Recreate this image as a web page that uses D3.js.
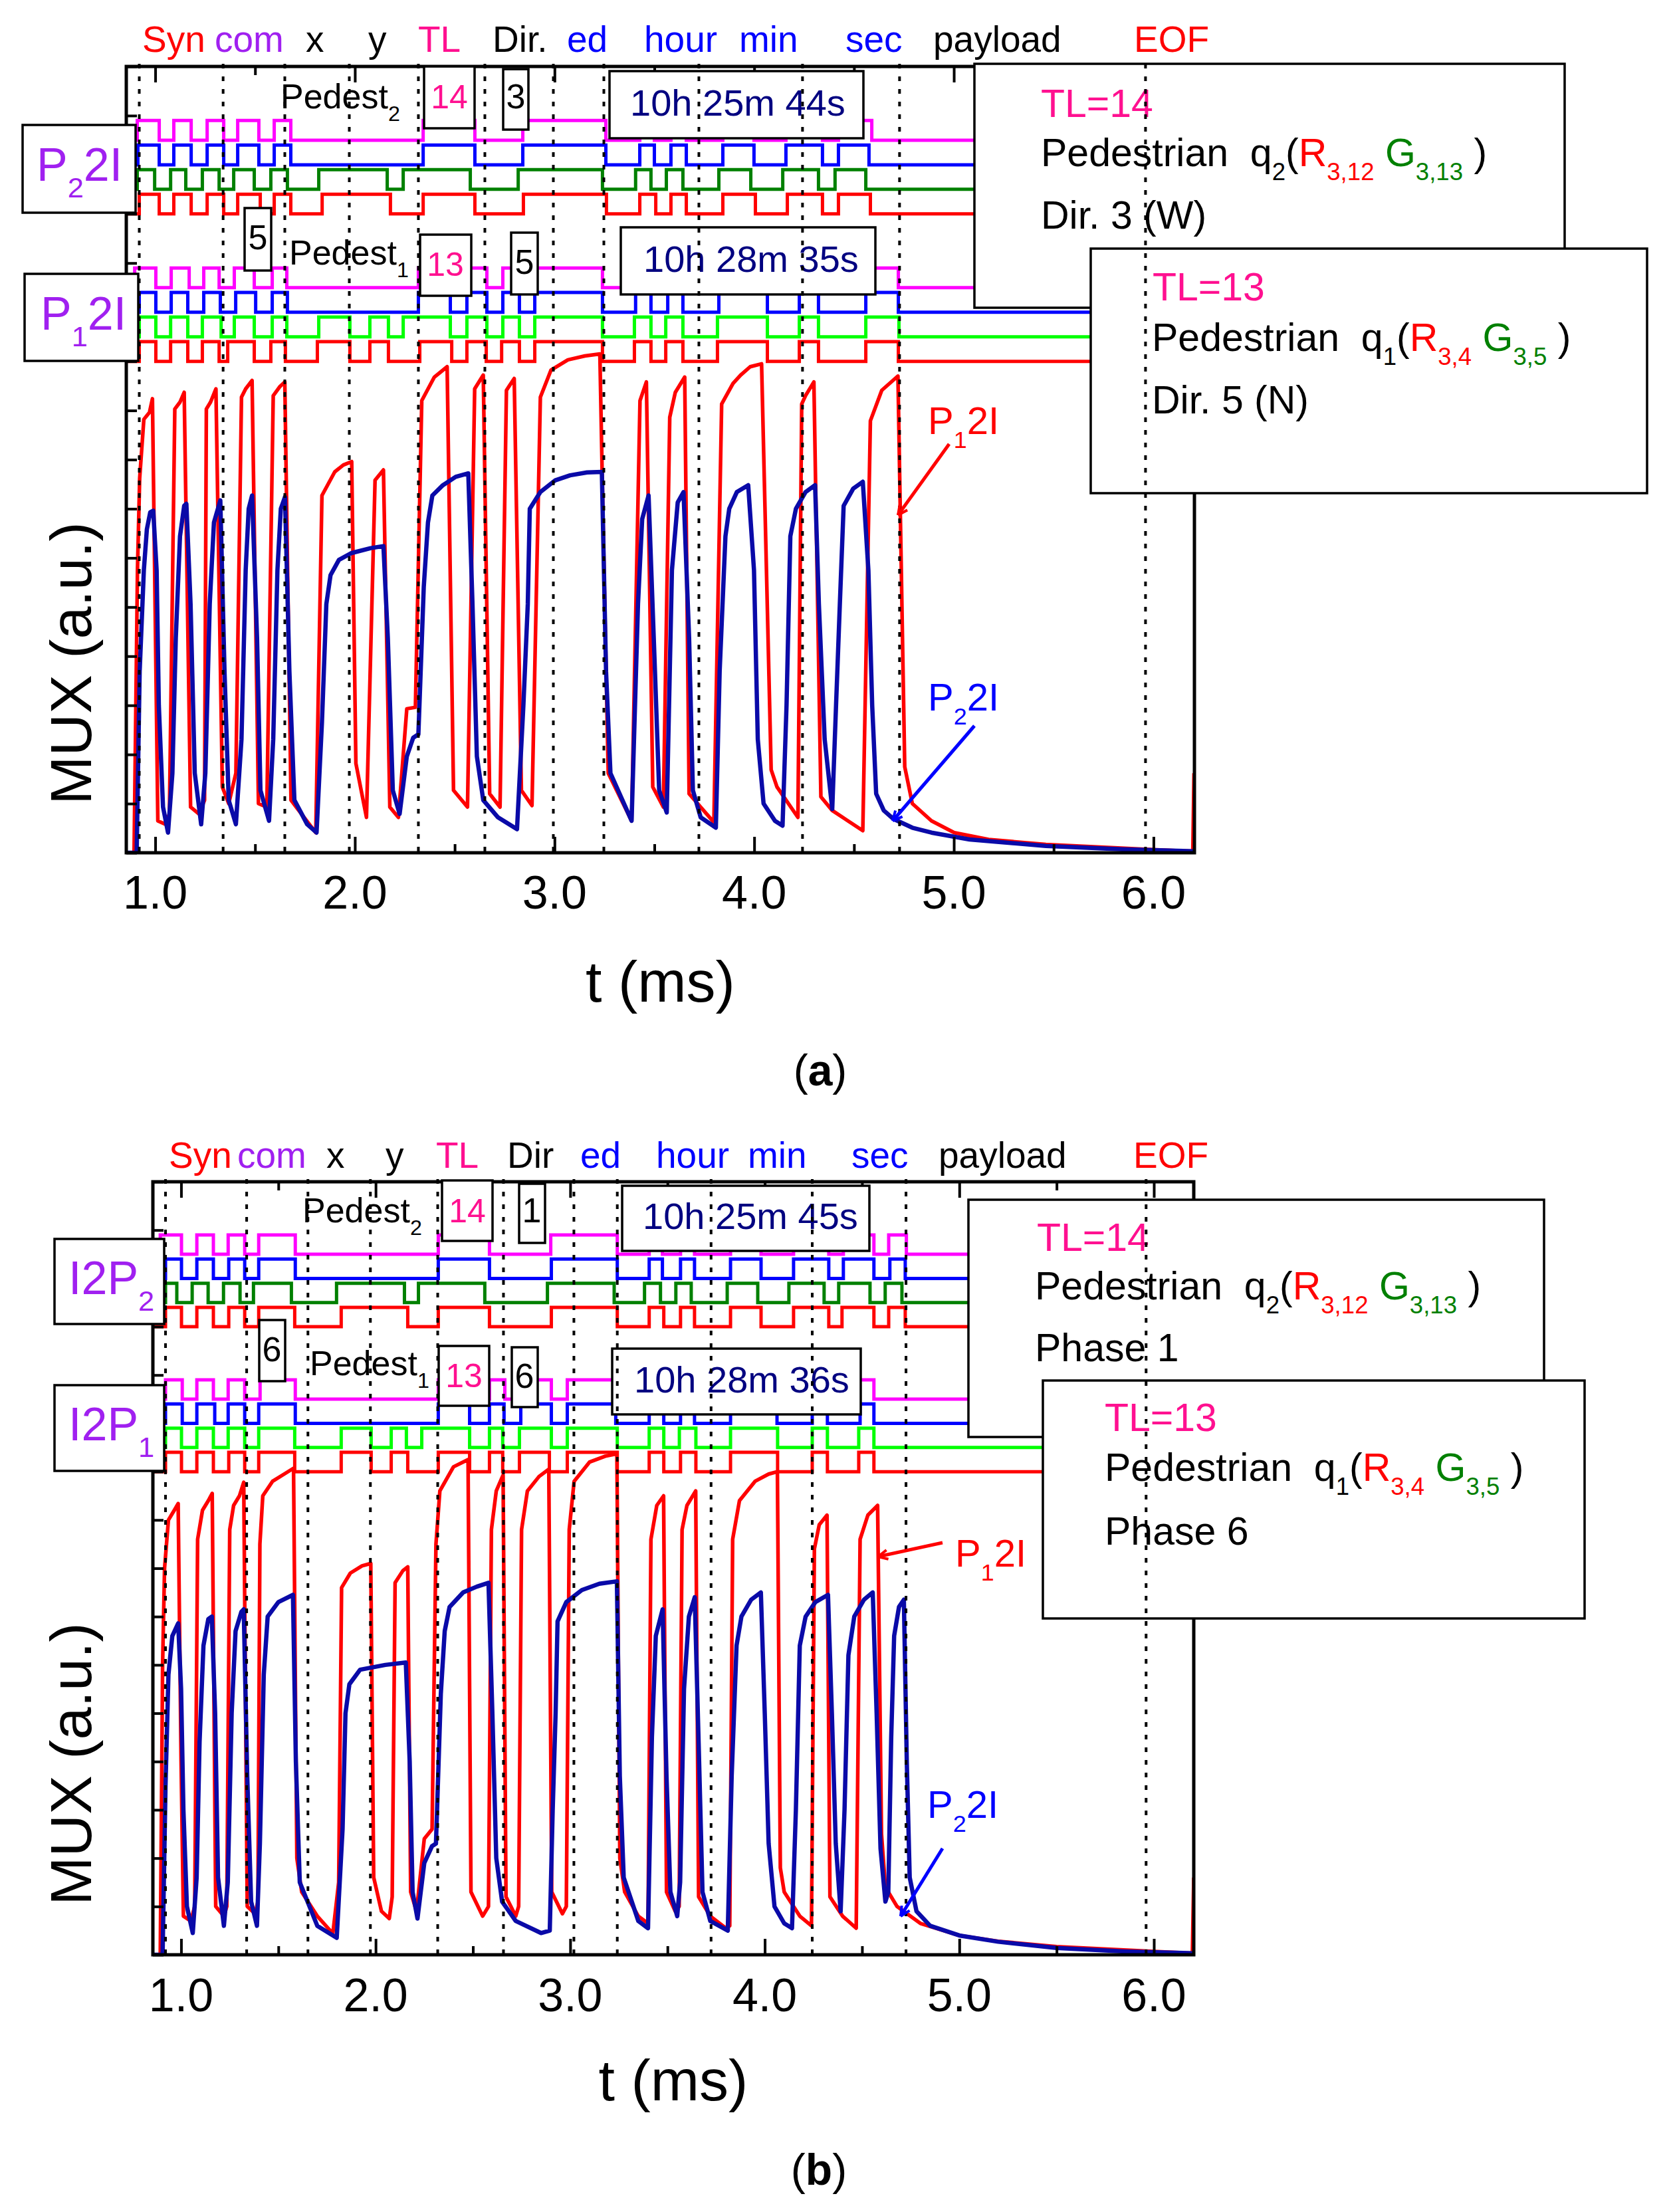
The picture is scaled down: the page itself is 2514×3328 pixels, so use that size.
<!DOCTYPE html>
<html><head><meta charset="utf-8">
<script src="https://cdn.jsdelivr.net/npm/d3@7"></script>
<style>
body{margin:0;background:#fff;}
svg{display:block;}
text{font-family:"Liberation Sans",Arial,sans-serif;white-space:pre;}
</style></head><body>
<svg id="chart" width="2514" height="3328"></svg>
<script>
// ---------------- DATA ----------------
const xTickValues = [1, 2, 3, 4, 5, 6];
const xTickLabels = ["1.0", "2.0", "3.0", "4.0", "5.0", "6.0"];
const xMinorTicks = [1.5, 2.5, 3.5, 4.5, 5.5];
const yTickValues = d3.range(0, 17);
const xLabel = "t (ms)";
const yLabel = "MUX (a.u.)";

const frameLabelsA = ["Syn", "com", "x", "y", "TL", "Dir.", "ed", "hour", "min", "sec", "payload", "EOF"];
const frameLabelsB = ["Syn", "com", "x", "y", "TL", "Dir", "ed", "hour", "min", "sec", "payload", "EOF"];

// field boundaries (ms)
const markersA = [0.920, 1.340, 1.649, 1.972, 2.318, 2.651, 2.994, 3.247, 3.723, 4.242, 4.728, 5.960];
const markersB = [0.920, 1.337, 1.652, 1.973, 2.319, 2.657, 3.019, 3.242, 3.724, 4.244, 4.726, 5.960];

// digital traces: toggle times (ms), starting low
const a_P2_red     = [0.920,1.020,1.093,1.180,1.260,1.343,1.413,1.526,1.596,1.679,1.836,2.178,2.342,2.601,2.844,3.260,3.427,3.507,3.583,3.660,3.843,4.006,4.166,4.342,4.422,4.582];
const a_P2_green   = [0.910,0.997,1.077,1.153,1.236,1.320,1.393,1.496,1.579,1.662,1.819,2.162,2.242,2.578,2.818,3.240,3.406,3.483,3.560,3.643,3.823,3.983,4.143,4.322,4.405,4.559];
const a_P2_blue    = [0.913,1.020,1.093,1.180,1.260,1.343,1.413,1.519,1.596,1.679,2.342,2.601,2.841,3.257,3.427,3.500,3.583,3.660,3.843,3.999,4.159,4.342,4.422,4.575];
const a_P2_magenta = [0.910,1.020,1.093,1.180,1.260,1.343,1.413,1.519,1.596,1.679,2.342,2.601,2.841,3.257,3.427,3.500,3.583,3.660,3.843,3.999,4.159,4.342,4.422,4.589];
const a_P1_red     = [0.920,1.003,1.077,1.163,1.236,1.320,1.363,1.496,1.579,1.652,1.812,1.975,2.075,2.168,2.325,2.485,2.561,2.658,2.735,2.824,2.901,3.240,3.400,3.483,3.557,3.643,3.816,4.066,4.226,4.322,4.559,4.722];
const a_P1_green   = [0.920,1.003,1.077,1.163,1.236,1.330,1.396,1.496,1.586,1.659,1.819,1.975,2.075,2.168,2.242,2.478,2.561,2.661,2.741,2.824,2.901,3.240,3.400,3.483,3.557,3.643,3.816,4.066,4.226,4.322,4.559,4.725];
const a_P1_blue    = [0.920,1.003,1.080,1.163,1.243,1.326,1.403,1.503,1.586,1.662,2.318,2.478,2.561,2.661,2.741,2.824,2.901,3.240,3.406,3.483,3.567,3.643,3.823,4.066,4.226,4.322,4.559,4.722];
const a_P1_magenta = [0.897,1.003,1.080,1.170,1.243,1.320,1.396,1.496,1.586,1.659,2.318,2.478,2.561,2.661,2.741,2.824,2.901,3.240,3.406,3.483,3.567,3.643,3.823,4.066,4.226,4.322,4.559,4.722];

const b_P2_red     = [0.920,1.002,1.081,1.166,1.245,1.327,1.399,1.584,1.823,2.165,2.322,2.585,2.903,3.242,3.406,3.481,3.567,3.639,3.824,3.981,4.148,4.329,4.397,4.561,4.637,4.722];
const b_P2_green   = [0.920,0.978,1.057,1.139,1.218,1.303,1.372,1.567,1.799,2.148,2.220,2.561,2.883,3.226,3.382,3.464,3.543,3.622,3.807,3.964,4.124,4.305,4.380,4.541,4.619,4.705];
const b_P2_blue    = [0.920,1.002,1.081,1.166,1.245,1.327,1.399,1.587,2.322,2.585,2.903,3.242,3.406,3.474,3.567,3.639,3.824,3.981,4.148,4.329,4.404,4.561,4.643,4.722];
const b_P2_magenta = [0.893,1.002,1.081,1.166,1.242,1.327,1.399,1.587,2.322,2.585,2.900,3.242,3.406,3.474,3.567,3.639,3.824,3.981,4.148,4.329,4.404,4.561,4.637,4.728];
const b_P1_red     = [0.920,1.002,1.081,1.166,1.245,1.327,1.399,1.584,1.823,1.977,2.080,2.165,2.322,2.483,2.585,2.653,2.739,2.893,2.985,3.242,3.406,3.481,3.567,3.646,3.824,4.066,4.244,4.322,4.483,4.561];
const b_P1_green   = [0.920,1.002,1.081,1.166,1.242,1.327,1.399,1.584,1.823,1.977,2.080,2.158,2.237,2.483,2.585,2.653,2.739,2.903,2.985,3.242,3.406,3.481,3.561,3.646,3.824,4.066,4.244,4.322,4.483,4.561];
const b_P1_blue    = [0.920,1.006,1.081,1.173,1.242,1.327,1.399,1.587,2.322,2.483,2.585,2.660,2.746,2.903,2.985,3.234,3.406,3.481,3.567,3.639,3.824,4.063,4.244,4.322,4.490,4.561];
const b_P1_magenta = [0.920,1.006,1.081,1.166,1.242,1.327,1.406,1.587,2.322,2.483,2.585,2.664,2.746,2.903,2.985,3.234,3.406,3.481,3.567,3.639,3.824,4.063,4.244,4.322,4.483,4.561];

// analog MUX signals: [t (ms), amplitude (a.u.)]
const a_P1_2I = [[0.852,0],[0.894,0],[0.911,5.75],[0.922,7.62],[0.943,8.82],[0.971,8.96],[0.986,9.24],[1.013,0.65],[1.050,0.58],[1.071,0.79],[1.098,9.03],[1.124,9.17],[1.145,9.37],[1.177,0.93],[1.219,0.79],[1.247,1.07],[1.256,9.03],[1.277,9.17],[1.304,9.44],[1.336,1.34],[1.368,1.0],[1.404,1.62],[1.432,9.27],[1.453,9.44],[1.485,9.61],[1.517,1.0],[1.559,0.93],[1.591,9.30],[1.623,9.48],[1.649,9.58],[1.680,1.07],[1.719,0.86],[1.804,0.41],[1.835,7.27],[1.899,7.75],[1.942,7.89],[1.984,7.96],[2.005,1.82],[2.058,0.72],[2.101,7.58],[2.143,7.79],[2.175,0.93],[2.218,0.72],[2.260,2.93],[2.303,2.96],[2.335,9.20],[2.398,9.68],[2.462,9.89],[2.494,1.27],[2.564,0.93],[2.600,9.44],[2.643,9.72],[2.675,1.20],[2.727,0.93],[2.759,9.41],[2.798,9.65],[2.834,1.27],[2.887,0.96],[2.929,9.27],[2.982,9.82],[3.067,10.03],[3.152,10.11],[3.227,10.15],[3.248,5.75],[3.269,1.62],[3.386,0.65],[3.428,9.20],[3.460,9.58],[3.492,1.34],[3.545,0.93],[3.577,8.86],[3.605,9.37],[3.652,9.68],[3.674,1.20],[3.798,0.62],[3.837,9.13],[3.894,9.55],[3.932,9.72],[3.980,9.89],[4.037,9.95],[4.085,1.69],[4.114,1.34],[4.219,0.72],[4.238,9.13],[4.257,9.30],[4.299,9.58],[4.334,1.14],[4.391,0.86],[4.544,0.45],[4.582,8.79],[4.639,9.41],[4.720,9.70],[4.754,1.75],[4.792,1.0],[4.888,0.65],[5.002,0.41],[5.174,0.27],[5.461,0.17],[5.958,0.07],[6.197,0.03],[6.203,1.62]];
const a_P2_2I = [[0.852,0],[0.907,0],[0.922,3.69],[0.943,5.75],[0.958,6.58],[0.975,6.93],[0.990,6.96],[1.007,5.75],[1.018,3.0],[1.039,0.93],[1.064,0.41],[1.086,1.62],[1.103,4.37],[1.124,6.44],[1.145,7.06],[1.156,7.10],[1.177,5.06],[1.198,1.62],[1.230,0.58],[1.251,1.62],[1.273,5.06],[1.294,6.72],[1.326,7.17],[1.347,3.69],[1.368,1.07],[1.404,0.58],[1.432,2.31],[1.453,5.75],[1.468,7.0],[1.485,7.27],[1.510,4.37],[1.527,1.27],[1.570,0.65],[1.591,2.31],[1.612,5.75],[1.629,7.0],[1.650,7.24],[1.672,3.69],[1.697,1.07],[1.761,0.58],[1.808,0.41],[1.835,2.65],[1.857,5.06],[1.878,5.65],[1.920,5.96],[1.984,6.10],[2.080,6.20],[2.143,6.24],[2.165,4.37],[2.190,1.27],[2.224,0.79],[2.260,1.96],[2.292,2.34],[2.318,2.41],[2.345,5.41],[2.366,6.72],[2.388,7.27],[2.441,7.48],[2.505,7.65],[2.568,7.72],[2.589,5.06],[2.611,1.96],[2.643,1.07],[2.717,0.72],[2.812,0.48],[2.844,3.0],[2.866,5.06],[2.876,7.0],[2.929,7.34],[3.004,7.58],[3.078,7.68],[3.163,7.74],[3.237,7.75],[3.258,3.69],[3.280,1.62],[3.386,0.65],[3.418,5.06],[3.439,6.79],[3.471,7.27],[3.503,3.69],[3.524,1.27],[3.562,0.82],[3.588,5.75],[3.617,7.13],[3.646,7.34],[3.674,4.37],[3.693,1.27],[3.732,0.72],[3.808,0.51],[3.827,3.69],[3.856,6.44],[3.875,7.0],[3.913,7.34],[3.970,7.48],[3.999,5.75],[4.018,2.31],[4.047,1.0],[4.104,0.65],[4.142,0.55],[4.162,3.0],[4.181,6.44],[4.209,7.0],[4.257,7.34],[4.305,7.48],[4.324,5.06],[4.353,2.31],[4.391,0.89],[4.410,3.0],[4.429,5.06],[4.448,7.06],[4.496,7.41],[4.544,7.55],[4.572,5.75],[4.591,3.0],[4.611,1.20],[4.649,0.86],[4.697,0.69],[4.792,0.51],[4.888,0.41],[5.079,0.27],[5.461,0.14],[5.843,0.07],[6.202,0.03]];

const b_P1_2I = [[0.856,0],[0.893,0],[0.905,6.0],[0.915,8.0],[0.935,9.0],[0.965,9.2],[0.985,9.34],[1.000,4.0],[1.012,0.8],[1.050,0.7],[1.070,1.0],[1.085,8.6],[1.110,9.2],[1.140,9.4],[1.160,9.55],[1.178,1.0],[1.220,0.8],[1.235,1.0],[1.250,8.8],[1.270,9.3],[1.300,9.5],[1.322,9.78],[1.340,1.0],[1.380,0.85],[1.395,1.1],[1.405,8.5],[1.420,9.5],[1.470,9.8],[1.530,9.95],[1.578,10.07],[1.595,2.0],[1.620,1.3],[1.700,0.8],[1.780,0.44],[1.810,1.5],[1.825,7.6],[1.870,7.9],[1.930,8.05],[1.975,8.1],[1.990,1.6],[2.030,0.9],[2.070,0.75],[2.085,1.2],[2.100,7.7],[2.140,7.95],[2.165,8.03],[2.180,1.3],[2.210,0.9],[2.250,2.4],[2.290,2.6],[2.310,8.5],[2.330,9.6],[2.400,10.1],[2.475,10.25],[2.490,1.3],[2.550,0.8],[2.580,1.0],[2.595,8.8],[2.620,9.6],[2.655,9.93],[2.670,1.2],[2.720,0.8],[2.735,1.0],[2.750,8.8],[2.780,9.6],[2.840,9.9],[2.890,10.05],[2.905,1.3],[2.960,0.85],[2.980,1.0],[2.995,8.8],[3.020,9.8],[3.100,10.2],[3.180,10.32],[3.240,10.37],[3.255,2.0],[3.280,1.3],[3.350,0.8],[3.400,0.65],[3.415,8.6],[3.445,9.3],[3.480,9.5],[3.495,1.3],[3.540,0.9],[3.560,1.0],[3.575,8.8],[3.600,9.3],[3.645,9.6],[3.660,1.2],[3.720,0.8],[3.800,0.55],[3.820,0.6],[3.835,8.6],[3.870,9.4],[3.950,9.8],[4.020,9.95],[4.065,10.0],[4.080,1.8],[4.100,1.3],[4.180,0.8],[4.240,0.6],[4.255,8.4],[4.280,8.9],[4.320,9.1],[4.335,1.2],[4.400,0.8],[4.470,0.55],[4.490,8.6],[4.530,9.1],[4.580,9.3],[4.600,2.5],[4.620,1.4],[4.680,1.0],[4.800,0.65],[5.000,0.4],[5.200,0.28],[5.500,0.17],[6.000,0.07],[6.198,0.03],[6.205,1.6]];
const b_P2_2I = [[0.856,0],[0.905,0],[0.920,3.5],[0.935,5.8],[0.955,6.6],[0.985,6.86],[1.000,5.5],[1.012,3.0],[1.030,1.0],[1.060,0.45],[1.080,1.6],[1.095,4.4],[1.115,6.4],[1.140,6.95],[1.158,7.0],[1.175,5.0],[1.190,1.6],[1.220,0.6],[1.240,1.5],[1.260,5.0],[1.280,6.7],[1.310,7.1],[1.322,7.15],[1.340,3.7],[1.360,1.1],[1.390,0.6],[1.405,2.3],[1.425,5.8],[1.445,7.0],[1.500,7.3],[1.575,7.45],[1.590,4.0],[1.610,1.5],[1.700,0.6],[1.800,0.35],[1.830,2.6],[1.845,5.0],[1.865,5.6],[1.920,5.9],[2.050,6.0],[2.155,6.05],[2.175,4.0],[2.190,1.3],[2.215,0.75],[2.250,1.9],[2.290,2.25],[2.310,2.3],[2.335,5.4],[2.355,6.7],[2.380,7.2],[2.450,7.5],[2.520,7.62],[2.580,7.7],[2.600,5.0],[2.620,2.0],[2.650,1.1],[2.720,0.7],[2.850,0.45],[2.895,0.5],[2.910,3.0],[2.925,5.0],[2.935,6.9],[2.980,7.3],[3.060,7.55],[3.150,7.68],[3.240,7.73],[3.255,3.7],[3.275,1.6],[3.350,0.7],[3.400,0.55],[3.420,4.5],[3.440,6.6],[3.475,7.15],[3.495,3.7],[3.515,1.3],[3.550,0.8],[3.565,1.5],[3.585,5.5],[3.610,7.0],[3.640,7.4],[3.660,4.4],[3.680,1.3],[3.720,0.7],[3.810,0.5],[3.830,3.7],[3.855,6.4],[3.880,7.0],[3.930,7.35],[3.980,7.5],[4.000,5.0],[4.020,2.3],[4.050,1.0],[4.100,0.65],[4.140,0.55],[4.160,3.0],[4.180,6.4],[4.210,7.0],[4.260,7.3],[4.325,7.45],[4.345,5.0],[4.365,2.3],[4.390,0.9],[4.410,3.0],[4.430,6.2],[4.460,7.0],[4.510,7.35],[4.555,7.5],[4.575,5.0],[4.595,2.2],[4.620,1.1],[4.635,1.3],[4.650,4.5],[4.665,6.6],[4.690,7.2],[4.715,7.35],[4.730,4.0],[4.745,1.6],[4.780,0.9],[4.850,0.6],[5.000,0.4],[5.200,0.27],[5.500,0.14],[5.850,0.07],[6.205,0.03]];

// ---------------- STYLE / LAYOUT ----------------
const C = {red:"#FF0000", green:"#008000", lime:"#00FF00", blue:"#0000FF", magenta:"#FF00FF",
  navy:"#000080", purple:"#A020F0", pink:"#FF1090", analogBlue:"#0A0AA8"};
const X_DOMAIN = [0.855, 6.205];
const Y_DOMAIN = [0, 16];
const LEVEL = {step:0.5, amp:0.4};

const svg = d3.select("#chart");

function rich(g, x, y, size, parts, anchor) {
  const t = g.append("text").attr("x", x).attr("y", y).attr("font-size", size)
    .attr("text-anchor", anchor || "start");
  let inSub = false;
  const d = size * 0.36;
  parts.forEach(p => {
    const s = t.append("tspan").text(p.t).attr("fill", p.c || "#000");
    if (p.sub) { s.attr("font-size", size * 0.62); if (!inSub) s.attr("dy", d); inSub = true; }
    else { if (inSub) s.attr("dy", -d); inSub = false; }
  });
  return t;
}

function stepPoints(edges, lo, hi, t0, t1) {
  const pts = [[t0, lo]]; let high = false;
  edges.forEach(e => { pts.push([e, high ? hi : lo]); high = !high; pts.push([e, high ? hi : lo]); });
  pts.push([t1, high ? hi : lo]);
  return pts;
}

function drawPanel(P) {
  const g = svg.append("g");
  const x = d3.scaleLinear().domain(X_DOMAIN).range([P.left, P.right]);
  const y = d3.scaleLinear().domain(Y_DOMAIN).range([P.bottom, P.top]);
  const line = d3.line().x(d => x(d[0])).y(d => y(d[1]));
  const clipId = "clip" + P.id;
  svg.append("clipPath").attr("id", clipId).append("rect")
    .attr("x", P.left).attr("y", P.top).attr("width", P.right - P.left).attr("height", P.bottom - P.top);

  P.groups.forEach(grp => {
    grp.traces.forEach((tr, k) => {
      const lo = grp.base + LEVEL.step * k, hi = lo + LEVEL.amp;
      g.append("path").attr("d", line(stepPoints(tr.edges, lo, hi, X_DOMAIN[0], X_DOMAIN[1])))
        .attr("fill", "none").attr("stroke", tr.color).attr("stroke-width", 5)
        .attr("stroke-linejoin", "miter").attr("clip-path", `url(#${clipId})`);
    });
  });
  g.append("path").attr("d", line(P.red)).attr("fill", "none").attr("stroke", C.red)
    .attr("stroke-width", 5.5).attr("stroke-linejoin", "round").attr("clip-path", `url(#${clipId})`);
  g.append("path").attr("d", line(P.blue)).attr("fill", "none").attr("stroke", C.analogBlue)
    .attr("stroke-width", 6.5).attr("stroke-linejoin", "round").attr("clip-path", `url(#${clipId})`);

  const ax = g.append("g");
  ax.append("g").attr("transform", `translate(0,${P.bottom})`)
    .call(d3.axisBottom(x).tickValues(xTickValues).tickSizeInner(-24).tickSizeOuter(0).tickFormat(""));
  ax.append("g").attr("transform", `translate(0,${P.bottom})`)
    .call(d3.axisBottom(x).tickValues(xMinorTicks).tickSizeInner(-13).tickSizeOuter(0).tickFormat(""));
  ax.append("g").attr("transform", `translate(0,${P.top})`)
    .call(d3.axisTop(x).tickValues(xTickValues).tickSizeInner(-24).tickSizeOuter(0).tickFormat(""));
  ax.append("g").attr("transform", `translate(0,${P.top})`)
    .call(d3.axisTop(x).tickValues(xMinorTicks).tickSizeInner(-13).tickSizeOuter(0).tickFormat(""));
  ax.append("g").attr("transform", `translate(${P.left},0)`)
    .call(d3.axisLeft(y).tickValues(yTickValues).tickSizeInner(-16).tickSizeOuter(0).tickFormat(""));
  ax.selectAll(".domain").remove();
  ax.selectAll(".tick line").attr("stroke", "#000").attr("stroke-width", 4);
  g.append("rect").attr("x", P.left).attr("y", P.top).attr("width", P.right - P.left)
    .attr("height", P.bottom - P.top).attr("fill", "none").attr("stroke", "#000").attr("stroke-width", 5);

  g.selectAll(".xl").data(xTickValues).enter().append("text")
    .attr("x", d => x(d)).attr("y", P.tickBase).attr("text-anchor", "middle")
    .attr("font-size", 70).text((d, i) => xTickLabels[i]);
  g.append("text").attr("x", (P.left + P.right) / 2).attr("y", P.xLabelBase)
    .attr("text-anchor", "middle").attr("font-size", 88).text(xLabel);
  g.append("text").attr("transform", `translate(${P.yLabelX},${P.yLabelY}) rotate(-90)`)
    .attr("text-anchor", "middle").attr("font-size", 88).text(yLabel);
  const cap = g.append("text").attr("x", P.capX).attr("y", P.capY).attr("text-anchor", "middle")
    .attr("font-size", 66).attr("font-family", "Liberation Serif, serif");
  cap.append("tspan").text("(");
  cap.append("tspan").text(P.capLetter).attr("font-weight", "bold");
  cap.append("tspan").text(")");

  P.frameLabels.forEach((s, i) => {
    g.append("text").attr("x", P.frameX[i]).attr("y", P.frameY).attr("font-size", 55)
      .attr("fill", P.frameColors[i]).text(s);
  });

  P.boxes.forEach(b => {
    g.append("rect").attr("x", b[0]).attr("y", b[1]).attr("width", b[2]).attr("height", b[3])
      .attr("fill", "#fff").attr("stroke", "#000").attr("stroke-width", 3.5);
  });
  P.texts.forEach(t => rich(g, t.x, t.y, t.s, t.p, t.a));

  g.selectAll(".mk").data(P.markers).enter().append("line")
    .attr("x1", d => x(d)).attr("x2", d => x(d)).attr("y1", P.top - 4).attr("y2", P.bottom + 4)
    .attr("stroke", "#000").attr("stroke-width", 4).attr("stroke-dasharray", "7,12");

  P.arrows.forEach(a => {
    g.append("line").attr("x1", a[0]).attr("y1", a[1]).attr("x2", a[2]).attr("y2", a[3])
      .attr("stroke", a[4]).attr("stroke-width", 5);
    const ang = Math.atan2(a[3] - a[1], a[2] - a[0]);
    const L = 16, w = 0.45;
    g.append("path").attr("d", `M${a[2]},${a[3]} L${a[2] - L * Math.cos(ang - w)},${a[3] - L * Math.sin(ang - w)} M${a[2]},${a[3]} L${a[2] - L * Math.cos(ang + w)},${a[3] - L * Math.sin(ang + w)}`)
      .attr("stroke", a[4]).attr("stroke-width", 4).attr("fill", "none");
  });
}

const frameColors = [C.red, C.purple, "#000", "#000", C.pink, "#000", C.blue, C.blue, C.blue, C.blue, "#000", C.red];
const sub = (t, c) => ({t, sub: true, c});
const pedLine = (q, r, gg) => [{t: "Pedestrian  q"}, sub(q), {t: "("}, {t: "R", c: C.red}, sub(r, C.red), {t: " "}, {t: "G", c: C.green}, sub(gg, C.green), {t: " )"}];

drawPanel({
  id: "A", left: 190, right: 1797, top: 100, bottom: 1283,
  tickBase: 1367, xLabelBase: 1507, yLabelX: 137, yLabelY: 998, capX: 1234, capY: 1633, capLetter: "a",
  frameLabels: frameLabelsA, frameColors,
  frameX: [214, 323, 460, 554, 629, 741, 853, 969, 1112, 1272, 1404, 1706], frameY: 78,
  markers: markersA,
  groups: [
    {base: 13.0, traces: [{edges: a_P2_red, color: C.red}, {edges: a_P2_green, color: C.green}, {edges: a_P2_blue, color: C.blue}, {edges: a_P2_magenta, color: C.magenta}]},
    {base: 10.0, traces: [{edges: a_P1_red, color: C.red}, {edges: a_P1_green, color: C.lime}, {edges: a_P1_blue, color: C.blue}, {edges: a_P1_magenta, color: C.magenta}]}
  ],
  red: a_P1_2I, blue: a_P2_2I,
  boxes: [[34,188,170,132],[37,412,171,131],[638,100,76,93],[757,104,38,91],[917,107,382,101],[368,313,40,94],[632,353,77,92],[769,350,40,93],[934,342,383,101],[1466,96,888,367],[1641,374,837,368]],
  texts: [
    {x: 55, y: 272, s: 70, p: [{t: "P", c: C.purple}, sub("2", C.purple), {t: "2I", c: C.purple}]},
    {x: 61, y: 496, s: 70, p: [{t: "P", c: C.purple}, sub("1", C.purple), {t: "2I", c: C.purple}]},
    {x: 422, y: 163, s: 52, p: [{t: "Pedest"}, sub("2")]},
    {x: 676, y: 163, s: 50, p: [{t: "14", c: C.pink}], a: "middle"},
    {x: 776, y: 163, s: 52, p: [{t: "3"}], a: "middle"},
    {x: 948, y: 174, s: 56, p: [{t: "10h 25m 44s", c: C.navy}]},
    {x: 388, y: 375, s: 52, p: [{t: "5"}], a: "middle"},
    {x: 435, y: 398, s: 52, p: [{t: "Pedest"}, sub("1")]},
    {x: 670, y: 415, s: 50, p: [{t: "13", c: C.pink}], a: "middle"},
    {x: 789, y: 412, s: 52, p: [{t: "5"}], a: "middle"},
    {x: 968, y: 409, s: 56, p: [{t: "10h 28m 35s", c: C.navy}]},
    {x: 1566, y: 176, s: 59, p: [{t: "TL=14", c: C.pink}]},
    {x: 1566, y: 250, s: 59, p: pedLine("2", "3,12", "3,13")},
    {x: 1566, y: 344, s: 59, p: [{t: "Dir. 3 (W)"}]},
    {x: 1734, y: 452, s: 59, p: [{t: "TL=13", c: C.pink}]},
    {x: 1733, y: 528, s: 59, p: pedLine("1", "3,4", "3,5")},
    {x: 1733, y: 622, s: 59, p: [{t: "Dir. 5 (N)"}]},
    {x: 1396, y: 653, s: 58, p: [{t: "P", c: C.red}, sub("1", C.red), {t: "2I", c: C.red}]},
    {x: 1396, y: 1069, s: 58, p: [{t: "P", c: C.blue}, sub("2", C.blue), {t: "2I", c: C.blue}]}
  ],
  arrows: [[1428, 668, 1351, 775, C.red], [1466, 1092, 1343, 1235, C.blue]]
});

drawPanel({
  id: "B", left: 230, right: 1796, top: 1778, bottom: 2941,
  tickBase: 3026, xLabelBase: 3160, yLabelX: 137, yLabelY: 2654, capX: 1232, capY: 3287, capLetter: "b",
  frameLabels: frameLabelsB, frameColors,
  frameX: [254, 357, 491, 580, 656, 763, 873, 987, 1125, 1281, 1412, 1705], frameY: 1757,
  markers: markersB,
  groups: [
    {base: 13.0, traces: [{edges: b_P2_red, color: C.red}, {edges: b_P2_green, color: C.green}, {edges: b_P2_blue, color: C.blue}, {edges: b_P2_magenta, color: C.magenta}]},
    {base: 10.0, traces: [{edges: b_P1_red, color: C.red}, {edges: b_P1_green, color: C.lime}, {edges: b_P1_blue, color: C.blue}, {edges: b_P1_magenta, color: C.magenta}]}
  ],
  red: b_P1_2I, blue: b_P2_2I,
  boxes: [[82,1864,165,128],[82,2084,165,129],[665,1776,76,91],[781,1781,39,89],[936,1784,372,98],[390,1986,39,92],[660,2025,76,90],[770,2027,39,90],[921,2029,374,99],[1457,1805,866,357],[1569,2077,815,358]],
  texts: [
    {x: 103, y: 1947, s: 70, p: [{t: "I2P", c: C.purple}, sub("2", C.purple)]},
    {x: 103, y: 2167, s: 70, p: [{t: "I2P", c: C.purple}, sub("1", C.purple)]},
    {x: 455, y: 1839, s: 52, p: [{t: "Pedest"}, sub("2")]},
    {x: 703, y: 1839, s: 50, p: [{t: "14", c: C.pink}], a: "middle"},
    {x: 800, y: 1839, s: 52, p: [{t: "1"}], a: "middle"},
    {x: 967, y: 1849, s: 56, p: [{t: "10h 25m 45s", c: C.navy}]},
    {x: 409, y: 2048, s: 52, p: [{t: "6"}], a: "middle"},
    {x: 466, y: 2069, s: 52, p: [{t: "Pedest"}, sub("1")]},
    {x: 698, y: 2087, s: 50, p: [{t: "13", c: C.pink}], a: "middle"},
    {x: 789, y: 2088, s: 52, p: [{t: "6"}], a: "middle"},
    {x: 954, y: 2095, s: 56, p: [{t: "10h 28m 36s", c: C.navy}]},
    {x: 1560, y: 1882, s: 59, p: [{t: "TL=14", c: C.pink}]},
    {x: 1557, y: 1955, s: 59, p: pedLine("2", "3,12", "3,13")},
    {x: 1557, y: 2048, s: 59, p: [{t: "Phase 1"}]},
    {x: 1662, y: 2153, s: 59, p: [{t: "TL=13", c: C.pink}]},
    {x: 1662, y: 2228, s: 59, p: pedLine("1", "3,4", "3,5")},
    {x: 1662, y: 2324, s: 59, p: [{t: "Phase 6"}]},
    {x: 1437, y: 2357, s: 58, p: [{t: "P", c: C.red}, sub("1", C.red), {t: "2I", c: C.red}]},
    {x: 1395, y: 2735, s: 58, p: [{t: "P", c: C.blue}, sub("2", C.blue), {t: "2I", c: C.blue}]}
  ],
  arrows: [[1418, 2321, 1321, 2342, C.red], [1418, 2781, 1355, 2883, C.blue]]
});
</script>
</body></html>
